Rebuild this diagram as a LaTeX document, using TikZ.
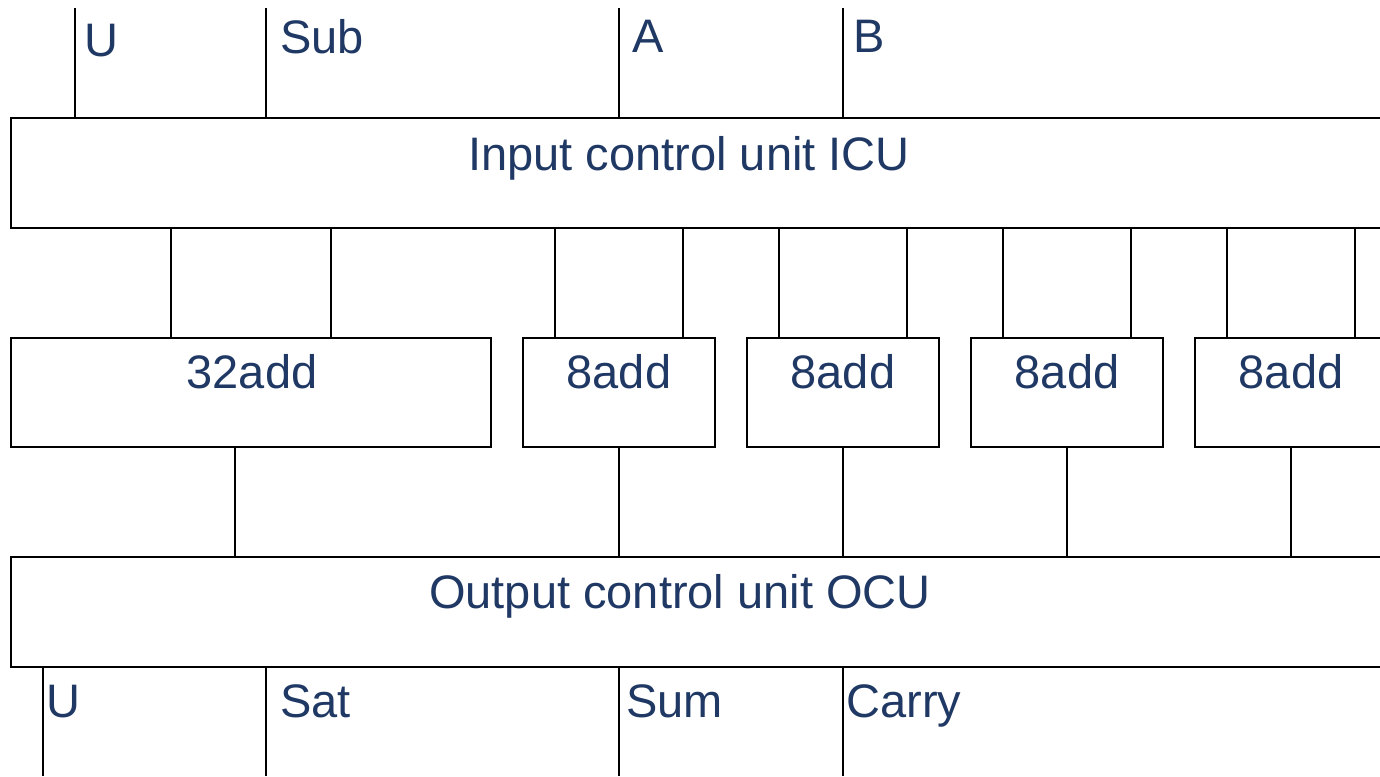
\documentclass[tikz,border=0pt]{standalone}
\usepackage{fontspec}
\setmainfont{Liberation Sans}
\definecolor{txt}{RGB}{31,56,100}
\tikzset{
  box/.style={draw, rectangle, inner sep=0pt, outer sep=0pt},
  lbl/.style={text=txt, font=\fontsize{23.5pt}{28pt}\selectfont, inner sep=0pt, anchor=base west},
  ttl/.style={text=txt, font=\fontsize{23.5pt}{28pt}\selectfont, inner sep=0pt, anchor=base}
}
\begin{document}
\begin{tikzpicture}[x=0.5pt,y=-0.5pt,line width=0.6pt]
\useasboundingbox (0,0) rectangle (1380,776);
\clip (0,0) rectangle (1380,776);
% boxes
\node[box, minimum width=700pt, minimum height=55pt] (icu) at (711,173) {};
\node[box, minimum width=240pt, minimum height=54.5pt] (a32) at (251,392.5) {};
\node[box, minimum width=96pt, minimum height=54.5pt] (a1) at (619,392.5) {};
\node[box, minimum width=96pt, minimum height=54.5pt] (a2) at (843,392.5) {};
\node[box, minimum width=96pt, minimum height=54.5pt] (a3) at (1067,392.5) {};
\node[box, minimum width=96pt, minimum height=54.5pt] (a4) at (1291,392.5) {};
\node[box, minimum width=700pt, minimum height=55pt] (ocu) at (711,612) {};
% titles
\node[ttl] (icut) at (689,170) {Input control unit ICU};
\node[ttl] (ocut) at (680,608) {Output control unit OCU};
\node[ttl] (a32t) at (252,388) {32add};
\node[ttl] (a1t) at (619,388) {8add};
\node[ttl] (a2t) at (843,388) {8add};
\node[ttl] (a3t) at (1067,388) {8add};
\node[ttl] (a4t) at (1291,388) {8add};
% input lines
\coordinate (inU) at (75,8);
\coordinate (inSub) at (266,8);
\coordinate (inA) at (619,8);
\coordinate (inB) at (843,8);
\foreach \c in {inU,inSub,inA,inB} {\draw (\c) -- (\c |- icu.north);}
\node[lbl] (lU) at (84,56) {U};
\node[lbl] (lSub) at (279.5,54) {Sub};
\node[lbl] (lA) at (632,52) {A};
\node[lbl] (lB) at (853,52) {B};
% ICU to adders
\foreach \n/\o [count=\i] in {a32/-40,a32/40,a1/-32,a1/32,a2/-32,a2/32,a3/-32,a3/32,a4/-32,a4/32} {
  \coordinate (t\i) at ([xshift=\o pt]\n.north);
  \draw (t\i) -- (t\i |- icu.south);
}
% adders to OCU
\foreach \n/\o [count=\i] in {a32/-8,a1/0,a2/0,a3/0,a4/0} {
  \coordinate (b\i) at ([xshift=\o pt]\n.south);
  \draw (b\i) -- (b\i |- ocu.north);
}
% output lines
\coordinate (outU) at (43,776);
\coordinate (outSat) at (266,776);
\coordinate (outSum) at (619,776);
\coordinate (outCarry) at (843,776);
\foreach \c in {outU,outSat,outSum,outCarry} {\draw (ocu.south -| \c) -- (\c);}
\node[lbl] (oU) at (46,717) {U};
\node[lbl] (oSat) at (279.5,717) {Sat};
\node[lbl] (oSum) at (625.5,717) {Sum};
\node[lbl] (oCarry) at (846,717) {Carry};
\end{tikzpicture}
\end{document}
